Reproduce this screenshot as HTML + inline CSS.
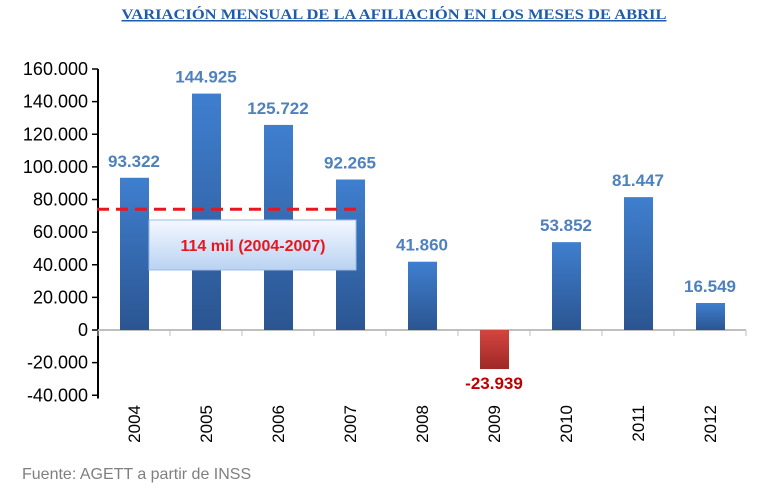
<!DOCTYPE html>
<html><head><meta charset="utf-8"><style>
body{margin:0;background:#fff;width:760px;height:487px;overflow:hidden;font-family:"Liberation Sans",sans-serif}
</style></head><body>
<svg id="c" width="760" height="487">
<defs>
<linearGradient id="gb" x1="0" y1="0" x2="0" y2="1"><stop offset="0" stop-color="#3f7fcf"/><stop offset="1" stop-color="#2b5591"/></linearGradient>
<linearGradient id="gr" x1="0" y1="0" x2="0" y2="1"><stop offset="0" stop-color="#d44440"/><stop offset="1" stop-color="#9e2a27"/></linearGradient>
<linearGradient id="gbox" x1="0" y1="0" x2="0" y2="1"><stop offset="0" stop-color="#f4f8ff"/><stop offset="1" stop-color="#b9d3f2"/></linearGradient>
</defs>
<text x="394" y="19" text-anchor="middle" font-family="Liberation Serif,serif" font-weight="bold" font-size="15" fill="#1f5bab" text-decoration="underline" textLength="545" lengthAdjust="spacingAndGlyphs">VARIACIÓN MENSUAL DE LA AFILIACIÓN EN LOS MESES DE ABRIL</text>
<text x="22" y="479" font-size="16" fill="#7f7f7f">Fuente: AGETT a partir de INSS</text>
</svg>
<script>
const categories=["2004","2005","2006","2007","2008","2009","2010","2011","2012"];
const values=[93322,144925,125722,92265,41860,-23939,53852,81447,16549];
const valueLabels=["93.322","144.925","125.722","92.265","41.860","-23.939","53.852","81.447","16.549"];
const yTicks=[160000,140000,120000,100000,80000,60000,40000,20000,0,-20000,-40000];
const yTickLabels=["160.000","140.000","120.000","100.000","80.000","60.000","40.000","20.000","0","-20.000","-40.000"];
const averageLine=[74000];
const svg=document.getElementById('c');const NS='http://www.w3.org/2000/svg';
function y(v){return 330-(v/160000)*261;}
const x0=98,band=72;
function x(i){return x0+band*i+band/2;}
function mk(t,a,txt){const e=document.createElementNS(NS,t);for(const k in a)e.setAttribute(k,a[k]);if(txt!==undefined)e.textContent=txt;svg.appendChild(e);return e;}
let e;
e=mk('line',{x1:98,y1:y(160000),x2:98,y2:y(-42000),stroke:'#000','stroke-width':2});


yTicks.forEach((t,i)=>{
 e=mk('line',{x1:92,y1:y(t),x2:98,y2:y(t),stroke:'#000','stroke-width':1.5});
 
 
 e=mk('text',{x:88,y:y(t)+6,'text-anchor':'end','font-size':18,fill:'#000'},yTickLabels[i]);
 
 
});
e=mk('line',{x1:98,y1:y(0),x2:x0+band*categories.length,y2:y(0),stroke:'#bfbfbf','stroke-width':2});


for(let i=0;i<=categories.length;i++){
 e=mk('line',{x1:x0+band*i,y1:y(0),x2:x0+band*i,y2:y(0)+6,stroke:'#bfbfbf','stroke-width':1});
 
 
}
categories.forEach((c,i)=>{
 const v=values[i],top=Math.min(y(v),y(0)),h=Math.abs(y(v)-y(0));
 e=mk('rect',{x:x(i)-14,y:top,width:29,height:h,fill:v<0?'url(#gr)':'url(#gb)'});
 
 
 const ly=v<0?y(v)+20:y(v)-11;
 e=mk('text',{x:x(i),y:ly,'text-anchor':'middle','font-size':17,'font-weight':'bold',fill:v<0?'#c00000':'#4f81bd'},valueLabels[i]);
 
 
 e=mk('text',{x:0,y:0,'text-anchor':'end','font-size':17,fill:'#000',transform:'translate('+(x(i)+6)+',405) rotate(-90)'},c);
 
 
});
e=mk('line',{x1:97,y1:y(averageLine[0]),x2:356,y2:y(averageLine[0]),stroke:'#e8161e','stroke-width':3,'stroke-dasharray':'12,7'});


e=mk('rect',{x:149,y:220,width:207,height:50,fill:'url(#gbox)',stroke:'#9dbbe3','stroke-width':1});


e=mk('text',{x:253,y:251,'text-anchor':'middle','font-size':16,'font-weight':'bold',fill:'#e8161e'},'114 mil  (2004-2007)');


</script>
</body></html>
